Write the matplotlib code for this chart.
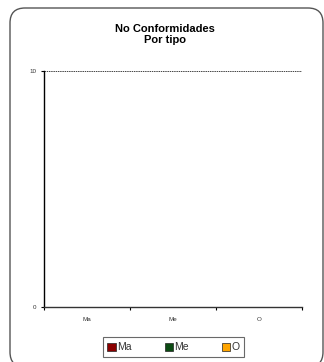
import numpy as np
import matplotlib
matplotlib.use('Agg')
import matplotlib.pyplot as plt
from matplotlib.patches import FancyBboxPatch, Patch

plt.rcParams['font.family'] = ['Liberation Sans', 'DejaVu Sans']

# Datos
categorias = ['Ma', 'Me', 'O']
valores = [0, 0, 0]
colores = ['#8B0000', '#0B4A12', '#FFA500']
y_ticks = [0, 10]

fig = plt.figure(figsize=(3.24, 3.62), dpi=100)

# marco redondeado del grafico (en pulgadas)
marco = FancyBboxPatch((0.10, -0.05), 3.13, 3.59,
                       boxstyle='round,pad=0,rounding_size=0.15',
                       transform=fig.dpi_scale_trans, facecolor='white',
                       edgecolor='#555555', linewidth=1.0, zorder=-5)
fig.patches.append(marco)

ax = fig.add_axes([0.136, 0.152, 0.796, 0.652])
ax.set_facecolor('none')
ax.set_zorder(2)
x = np.arange(len(categorias))
ax.bar(x, valores, color=colores, width=0.6)

ax.set_xlim(-0.5, len(categorias) - 0.5)
ax.set_ylim(0, 10)
ax.set_yticks(y_ticks)
ax.set_yticklabels([str(v) for v in y_ticks], fontsize=4.5, color='#333333')
ax.set_xticks(x)
ax.set_xticklabels(categorias, fontsize=4.5, color='#333333')
ax.set_xticks(np.arange(len(categorias) + 1) - 0.5, minor=True)
ax.tick_params(axis='x', which='major', length=0, pad=7)
ax.tick_params(axis='x', which='minor', length=2.5, direction='out', width=0.8)
ax.tick_params(axis='y', length=2.5, width=0.8, pad=3)

ax.spines['top'].set_visible(False)
ax.spines['right'].set_visible(False)
ax.spines['left'].set_color('black')
ax.spines['bottom'].set_color('#333333')
ax.spines['left'].set_linewidth(1.0)
ax.spines['bottom'].set_linewidth(1.0)

ax.axhline(10, color='#444444', linestyle=(0, (1.5, 0.8)), linewidth=0.7)

fig.text(0.51, 0.905, 'No Conformidades\nPor tipo', ha='center', va='center',
         fontsize=8, fontweight='bold', linespacing=1.15)

handles = [Patch(facecolor=c, edgecolor='#222222', linewidth=0.5) for c in colores]
leg = fig.legend(handles, categorias, loc='center', bbox_to_anchor=(0.535, 0.041),
                 ncol=3, fontsize=7.5, frameon=True, fancybox=False,
                 edgecolor='#444444', handlelength=0.8, handleheight=0.8,
                 handletextpad=0.1, columnspacing=3.2, borderpad=0.45,
                 labelcolor='#333333')
leg.get_frame().set_linewidth(0.8)

fig.savefig('out.png', dpi=100)
